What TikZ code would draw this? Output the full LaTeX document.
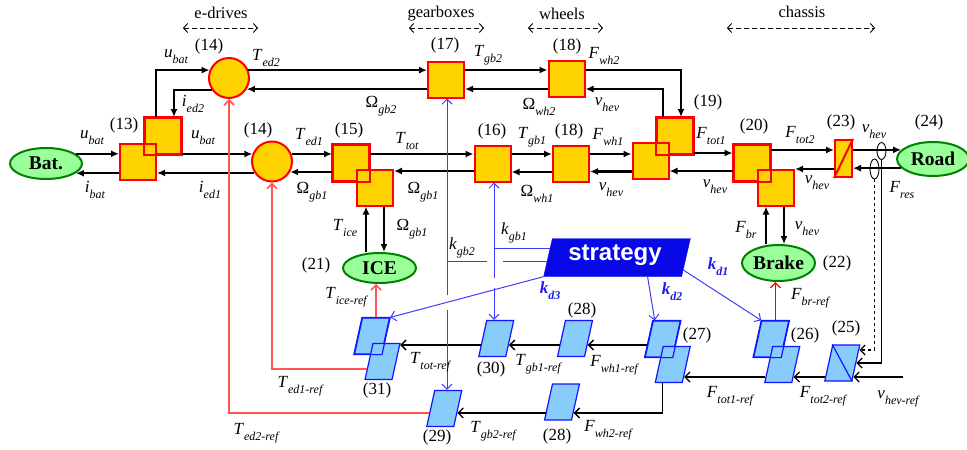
\documentclass[tikz,border=0pt]{standalone}
\usepackage{fontspec}
\setmainfont{Liberation Serif}
\newfontfamily\sansbf{Liberation Sans}
\usetikzlibrary{arrows.meta,shapes.geometric}
\definecolor{cgold}{RGB}{255,211,0}
\definecolor{cred}{RGB}{255,0,0}
\definecolor{lred}{RGB}{255,85,85}
\definecolor{dgreen}{RGB}{0,128,0}
\definecolor{lgreen}{RGB}{153,255,153}
\definecolor{lblue}{RGB}{135,204,250}
\definecolor{pblue}{RGB}{20,20,255}
\definecolor{sblue}{RGB}{8,8,232}
\definecolor{lineblue}{RGB}{60,60,255}
\definecolor{kblue}{RGB}{30,30,230}
\newcommand\sig[2]{\textit{#1}\raisebox{-6pt}{\fontsize{12}{12}\selectfont\itshape #2}}
\newcommand\kd[1]{\textcolor{kblue}{\bfseries\itshape k\raisebox{-6pt}{\fontsize{12}{12}\selectfont\bfseries\itshape #1}}}
\begin{document}
\begin{tikzpicture}[x=1pt,y=-1pt,
  gbox/.style={draw=cred,fill=cgold,line width=2pt,minimum width=36pt,minimum height=36pt,inner sep=0pt},
  sqb/.style={draw=cred,line width=2pt},
  edrv/.style={circle,draw=cred,fill=cgold,line width=2pt,minimum size=40pt,inner sep=0pt},
  gell/.style={ellipse,draw=dgreen,fill=lgreen,line width=2pt,inner sep=0pt,font=\fontsize{19.5}{19.5}\selectfont\bfseries},
  pbox/.style={draw=pblue,fill=lblue,line width=1.2pt,minimum width=27pt,minimum height=36pt,inner sep=0pt,xslant=0.22,transform shape},
  pbd/.style={draw=pblue,line width=1.2pt},
  stratbox/.style={fill=sblue,draw=sblue,minimum width=138pt,minimum height=38pt,inner sep=0pt,xslant=0.23,transform shape},
  sens/.style={ellipse,draw=black,line width=0.9pt,minimum width=9pt,inner sep=0pt},
  lab/.style={inner sep=0pt,font=\fontsize{17}{17}\selectfont},
  hd/.style={inner sep=0pt,font=\fontsize{16.5}{16.5}\selectfont},
  fw/.style={line width=2.4pt,-{Latex[length=8pt,width=7pt]}},
  cb/.style={line width=1.3pt,-{Straight Barb[length=5pt,width=10pt]}},
  bl/.style={draw=lineblue,line width=1pt},
  bla/.style={draw=lineblue,line width=1pt,-{Straight Barb[length=5pt,width=10pt]}},
  rda/.style={draw=lred,line width=1.6pt,-{Straight Barb[length=5pt,width=10pt]}},
  rdb/.style={draw=cred,line width=1.3pt,-{Straight Barb[length=5pt,width=10pt]}},
  dashar/.style={dashed,dash pattern=on 5pt off 3pt,line width=0.9pt,{Straight Barb[length=4pt,width=9pt]}-{Straight Barb[length=4pt,width=9pt]}}]
\useasboundingbox (0,0) rectangle (967,450);

% headings
\node[hd] (hed) at (221,13) {e-drives};
\node[hd] (hgb) at (441,14) {gearboxes};
\node[hd] (hwh) at (562,14) {wheels};
\node[hd] (hch) at (802,12) {chassis};
\coordinate (hedL) at (183,28); \coordinate (hedR) at (258,28);
\coordinate (hgbL) at (409,28); \coordinate (hgbR) at (484,28);
\coordinate (hwhL) at (528,28); \coordinate (hwhR) at (603,28);
\coordinate (hchL) at (727,28); \coordinate (hchR) at (875,28);
\draw[dashar] (hedL) -- (hedR);
\draw[dashar] (hgbL) -- (hgbR);
\draw[dashar] (hwhL) -- (hwhR);
\draw[dashar] (hchL) -- (hchR);

% power blocks
\node[gbox] (b13a) at (162.5,136) {};
\node[gbox] (b13b) at (138,162) {};
\draw[sqb] (b13a.south west) rectangle (b13a.north east);
\node[edrv] (c14a) at (229,78) {};
\node[edrv] (c14b) at (272,161.5) {};
\node[gbox] (b15a) at (351,162.5) {};
\node[gbox] (b15b) at (375,187.5) {};
\draw[sqb] (b15a.south west) rectangle (b15a.north east);
\node[gbox] (b16) at (492.5,163.5) {};
\node[gbox] (b17) at (446,79.5) {};
\node[gbox] (b18a) at (566.5,78.5) {};
\node[gbox] (b18b) at (571,163.5) {};
\node[gbox] (b19a) at (674.5,136) {};
\node[gbox] (b19b) at (650.5,161) {};
\draw[sqb] (b19a.south west) rectangle (b19a.north east);
\node[gbox] (b20a) at (751.5,162.5) {};
\node[gbox] (b20b) at (776,187.5) {};
\draw[sqb] (b20a.south west) rectangle (b20a.north east);
\node[gbox,minimum width=17pt,minimum height=37pt] (b23) at (843.5,158.5) {};
\draw[sqb] (b23.south west) -- (b23.north east);

% sources
\node[gell,minimum width=72pt,minimum height=31pt] (bat) at (46,163.5) {Bat.};
\node[gell,minimum width=72pt,minimum height=34pt] (road) at (933,159) {Road};
\node[gell,minimum width=73pt,minimum height=30pt] (ice) at (379.5,268) {ICE};
\node[gell,minimum width=73pt,minimum height=36pt] (brake) at (778.5,263) {Brake};

% control blocks
\node[pbox] (p31a) at (372,336) {};
\node[pbox] (p31b) at (382.5,361.5) {};
\draw[pbd] (p31a.south west) -- (p31a.south east) -- (p31a.north east) -- (p31a.north west) -- cycle;
\node[pbox] (p30) at (496.25,338.5) {};
\node[pbox] (p28a) at (575,338.5) {};
\node[pbox] (p27a) at (662.75,339) {};
\node[pbox] (p27b) at (672.75,364.5) {};
\draw[pbd] (p27a.south west) -- (p27a.south east) -- (p27a.north east) -- (p27a.north west) -- cycle;
\node[pbox] (p26a) at (771.25,339) {};
\node[pbox] (p26b) at (782.25,364.5) {};
\draw[pbd] (p26a.south west) -- (p26a.south east) -- (p26a.north east) -- (p26a.north west) -- cycle;
\node[pbox] (p25) at (842.25,363) {};
\draw[pbd] (p25.north west) -- (p25.south east);
\node[pbox] (p29) at (444.25,408.5) {};
\node[pbox] (p28b) at (562,402) {};

\node[stratbox] (strat) at (617,257.5) {};
\node[inner sep=0pt,text=white,font=\sansbf\bfseries\fontsize{24}{24}\selectfont] (strattxt) at (615,255) {strategy};

% black power connectors - upper row
\draw[fw] ([xshift=-6.5pt]b13a.north) |- (c14a.158);
\draw[fw] (c14a.215) -| ([xshift=11.5pt]b13a.north);
\draw[fw] (c14a.22) -- (c14a.22 -| b17.west);
\draw[fw] (c14a.-32 -| b17.west) -- (c14a.-32);
\draw[fw] ([yshift=9.5pt]b17.east) -- ([yshift=9.5pt]b17.east -| b18a.west);
\draw[fw] ([yshift=-9.5pt]b17.east -| b18a.west) -- ([yshift=-9.5pt]b17.east);
\draw[fw] ([yshift=8.5pt]b18a.east) -| ([xshift=6.5pt]b19a.north);
\draw[fw] ([xshift=-11.5pt]b19a.north) |- ([yshift=-10.5pt]b18a.east);
% lower row
\draw[fw] (bat.18) -- (bat.18 -| b13b.west);
\draw[fw] (bat.-18 -| b13b.west) -- (bat.-18);
\draw[fw] (c14b.159 -| b13a.east) -- (c14b.159);
\draw[fw] (c14b.213) -- (c14b.213 -| b13b.east);
\draw[fw] (c14b.21) -- (c14b.21 -| b15a.west);
\draw[fw] (c14b.-30 -| b15a.west) -- (c14b.-30);
\draw[fw] ([yshift=8.5pt]b15a.east) -- ([yshift=8.5pt]b15a.east -| b16.west);
\draw[fw] ([yshift=-7.5pt]b16.west) -- ([yshift=-7.5pt]b16.west -| b15b.east);
\draw[fw] ([yshift=9.5pt]b16.east) -- ([yshift=9.5pt]b16.east -| b18b.west);
\draw[fw] ([yshift=-8.5pt]b18b.west) -- ([yshift=-8.5pt]b18b.west -| b16.east);
\draw[fw] ([yshift=9.5pt]b18b.east) -- ([yshift=9.5pt]b18b.east -| b19b.west);
\draw[fw] ([yshift=-10.5pt]b19b.west) -- ([yshift=-10.5pt]b19b.west -| b18b.east);
\draw[fw] ([yshift=-17pt]b19a.east) -- ([yshift=-17pt]b19a.east -| b20a.west);
\draw[fw] ([yshift=-8.5pt]b20a.west) -- ([yshift=-8.5pt]b20a.west -| b19b.east);
\draw[fw] ([yshift=12.5pt]b20a.east) -- ([yshift=12.5pt]b20a.east -| b23.west);
\draw[fw] ([yshift=-10.5pt]b23.west) -- ([yshift=-10.5pt]b23.west -| b20b.east);
\draw[fw] (road.164 -| b23.east) -- (road.164);
\draw[fw] (road.196) -- (road.196 -| b23.east);
\draw[fw] ([xshift=-9pt]b15b.south |- ice.north) -- ([xshift=-9pt]b15b.south);
\draw[fw] ([xshift=9pt]b15b.south) -- ([xshift=9pt]b15b.south |- ice.north);
\draw[fw] ([xshift=-10pt]b20b.south |- brake.north) -- ([xshift=-10pt]b20b.south);
\draw[fw] ([xshift=8pt]b20b.south) -- ([xshift=8pt]b20b.south |- brake.north);

% sensors
\node[sens,minimum height=17pt] (e1) at (881.5,151) {};
\node[sens,minimum height=20pt] (e2) at (874.5,169) {};
\coordinate (vref) at (903,377);
\draw[cb] (e1.south) |- (p25.east);
\draw[cb,dashed] (e2.south) |- ([xshift=2.9pt,yshift=13pt]p25.east);
\draw[cb] (vref) -- ([xshift=-3.1pt,yshift=-14pt]p25.east);

% control connectors
\draw[cb] ([xshift=-3.1pt,yshift=-14pt]p25.west) -- ([xshift=-2.75pt,yshift=-12.5pt]p26b.east);
\draw[cb] ([xshift=-2.75pt,yshift=-12.5pt]p26b.west) -- ([xshift=-2.75pt,yshift=-12.5pt]p27b.east);
\draw[cb] ([xshift=-1.3pt,yshift=-6pt]p27a.west) -- ([xshift=-1.4pt,yshift=-6.5pt]p28a.east);
\draw[cb] ([xshift=-1.4pt,yshift=-6.5pt]p28a.west) -- ([xshift=-1.4pt,yshift=-6.5pt]p30.east);
\draw[cb] ([xshift=-1.4pt,yshift=-6.5pt]p30.west) -- ([xshift=3.6pt,yshift=16.5pt]p31b.east);
\draw[cb] ([xshift=-6pt]p27b.south) |- ([xshift=-2.4pt,yshift=-11pt]p28b.east);
\draw[cb] ([xshift=-2.4pt,yshift=-11pt]p28b.west) -- ([xshift=-1pt,yshift=-4.5pt]p29.east);

% red references
\draw[rda] (p31a.north) -- (p31a.north |- ice.south);
\draw[rda] ([xshift=-1.65pt,yshift=-7.5pt]p31b.west) -| (c14b.south);
\draw[rda] ([xshift=-1pt,yshift=-4.5pt]p29.west) -| (c14a.south);
\draw[rdb] (p26a.north) -- (p26a.north |- brake.south);

% blue strategy outputs
\coordinate (j1) at (494,248);
\coordinate (j2) at (447,261);
\draw[bl] ([xshift=2.2pt,yshift=9.5pt]strat.west) -- (j1);
\draw[bla] (j1) -- (j1 |- b16.south);
\draw[bl] (j1) -- ++(0,30);
\draw[bla] ([yshift=-40pt]j1) -- (j1 |- p30.north);
\draw[bl] ([xshift=-0.8pt,yshift=-3.5pt]strat.west) -- ([xshift=9pt]j1 |- j2);
\draw[bl] ([xshift=-7pt]j1 |- j2) -- (j2);
\draw[bla] (j2) -- (j2 |- b17.south);
\draw[bl] (j2) -- ++(0,34);
\draw[bla] ([yshift=-49pt]j2) -- (j2 |- p29.north);
\draw[bla] (strat.south west) -- (p31a.north east);
\draw[bla] ([xshift=35pt]strat.south) -- ([xshift=2pt]p27a.north west);
\draw[bla] ([xshift=-2.9pt,yshift=-12.5pt]strat.east) -- (p26a.north west);

% labels
\node[lab] (l1) at (176,57) {\sig{u}{bat}};
\node[lab] (l2) at (209,46) {(14)};
\node[lab] (l3) at (266,58) {\sig{T}{ed2}};
\node[lab] (l4) at (193,104) {\sig{i}{ed2}};
\node[lab] (l5) at (124,125) {(13)};
\node[lab] (l6) at (92,138) {\sig{u}{bat}};
\node[lab] (l7) at (95,190) {\sig{i}{bat}};
\node[lab] (l8) at (203,138) {\sig{u}{bat}};
\node[lab] (l9) at (258,130) {(14)};
\node[lab] (l10) at (210,190) {\sig{i}{ed1}};
\node[lab] (l11) at (309,137) {\sig{T}{ed1}};
\node[lab] (l12) at (349,130) {(15)};
\node[lab] (l13) at (312,192) {\sig{\upshape Ω}{gb1}};
\node[lab] (l14) at (407,141) {\sig{T}{tot}};
\node[lab] (l15) at (423,192) {\sig{\upshape Ω}{gb1}};
\node[lab] (l16) at (345,228) {\sig{T}{ice}};
\node[lab] (l17) at (412,229) {\sig{\upshape Ω}{gb1}};
\node[lab] (l18) at (316,265) {(21)};
\node[lab] (l19) at (381,106) {\sig{\upshape Ω}{gb2}};
\node[lab] (l20) at (445,45) {(17)};
\node[lab] (l21) at (488,55) {\sig{T}{gb2}};
\node[lab] (l22) at (567,46) {(18)};
\node[lab] (l23) at (604,56) {\sig{F}{wh2}};
\node[lab] (l24) at (539,107) {\sig{\upshape Ω}{wh2}};
\node[lab] (l25) at (607,105) {\sig{v}{hev}};
\node[lab] (l26) at (492,131) {(16)};
\node[lab] (l27) at (532,137) {\sig{T}{gb1}};
\node[lab] (l28) at (569,131) {(18)};
\node[lab] (l29) at (608,137) {\sig{F}{wh1}};
\node[lab] (l30) at (537,194) {\sig{\upshape Ω}{wh1}};
\node[lab] (l31) at (611,190) {\sig{v}{hev}};
\node[lab] (l32) at (708,102) {(19)};
\node[lab] (l33) at (711,136) {\sig{F}{tot1}};
\node[lab] (l34) at (715,187) {\sig{v}{hev}};
\node[lab] (l35) at (754,126) {(20)};
\node[lab] (l36) at (800,135) {\sig{F}{tot2}};
\node[lab] (l37) at (841,122) {(23)};
\node[lab] (l38) at (874,132) {\sig{v}{hev}};
\node[lab] (l39) at (929,122) {(24)};
\node[lab] (l40) at (817,183) {\sig{v}{hev}};
\node[lab] (l41) at (902,190) {\sig{F}{res}};
\node[lab] (l42) at (746,230) {\sig{F}{br}};
\node[lab] (l43) at (807,229) {\sig{v}{hev}};
\node[lab] (l44) at (837,263) {(22)};
\node[lab] (l45) at (810,298) {\sig{F}{br-ref}};
\node[lab] (l46) at (718,267) {\kd{d1}};
\node[lab] (l47) at (672,292) {\kd{d2}};
\node[lab] (l48) at (550,291) {\kd{d3}};
\node[lab] (l49) at (514,233) {\sig{k}{gb1}};
\node[lab] (l50) at (462,248) {\sig{k}{gb2}};
\node[lab] (l51) at (346,297) {\sig{T}{ice-ref}};
\node[lab] (l52) at (377,390) {(31)};
\node[lab] (l53) at (430,362) {\sig{T}{tot-ref}};
\node[lab] (l54) at (491,369) {(30)};
\node[lab] (l55) at (538,364) {\sig{T}{gb1-ref}};
\node[lab] (l56) at (582,310) {(28)};
\node[lab] (l57) at (614,365) {\sig{F}{wh1-ref}};
\node[lab] (l58) at (697,335) {(27)};
\node[lab] (l59) at (805,335) {(26)};
\node[lab] (l60) at (846,328) {(25)};
\node[lab] (l61) at (730,396) {\sig{F}{tot1-ref}};
\node[lab] (l62) at (823,396) {\sig{F}{tot2-ref}};
\node[lab] (l63) at (898,399) {\sig{v}{hev-ref}};
\node[lab] (l64) at (300,386) {\sig{T}{ed1-ref}};
\node[lab] (l65) at (256,433) {\sig{T}{ed2-ref}};
\node[lab] (l66) at (437,437) {(29)};
\node[lab] (l67) at (493,431) {\sig{T}{gb2-ref}};
\node[lab] (l68) at (557,436) {(28)};
\node[lab] (l69) at (608,430) {\sig{F}{wh2-ref}};
\end{tikzpicture}
\end{document}
